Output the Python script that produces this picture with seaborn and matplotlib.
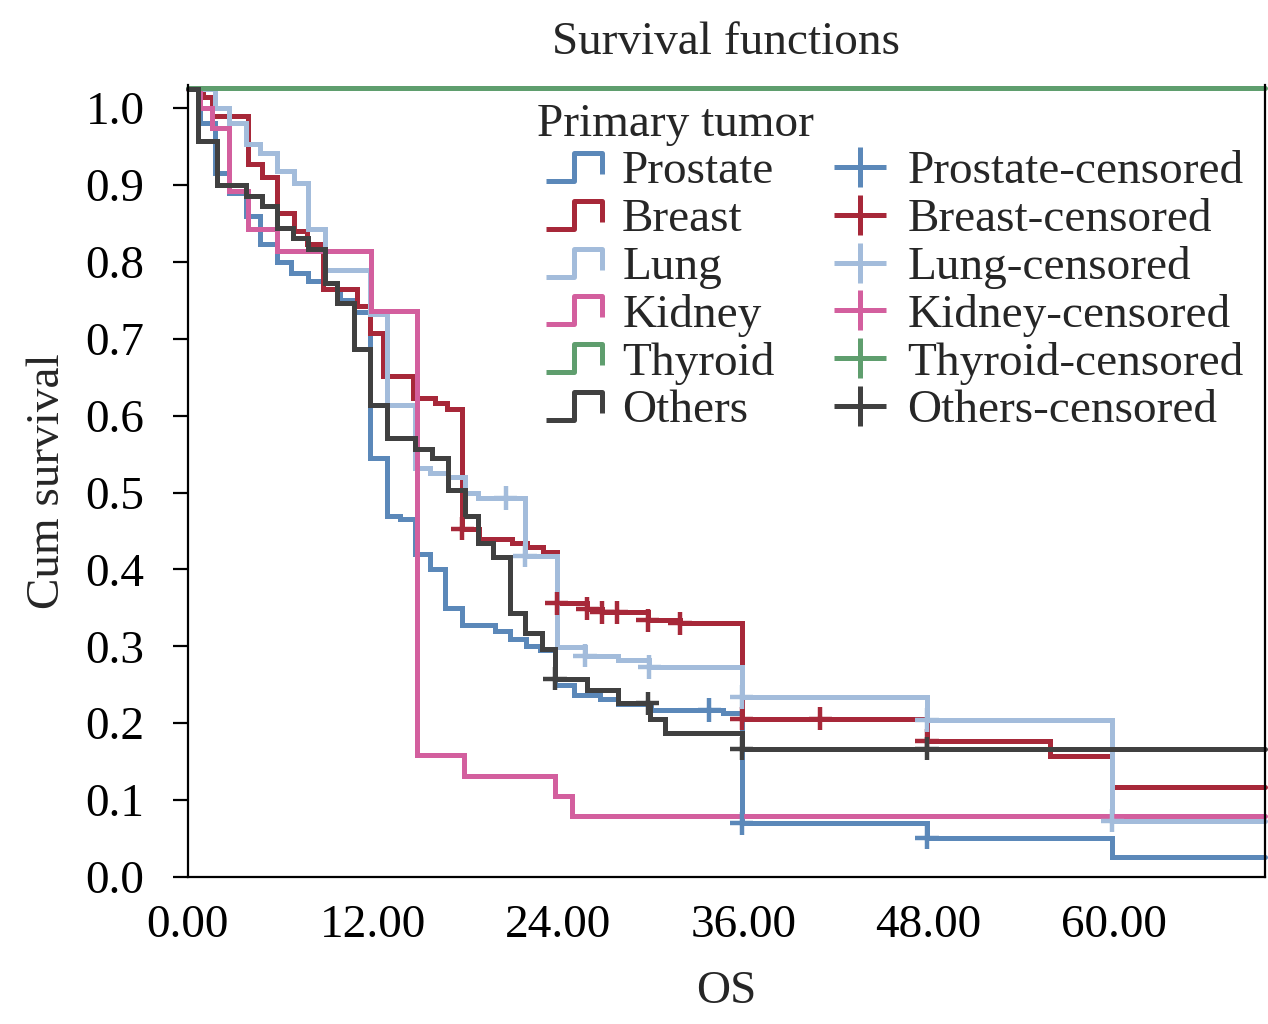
import numpy as np
import pandas as pd
import matplotlib
matplotlib.use("Agg")
import matplotlib.pyplot as plt
import seaborn as sns
from matplotlib.lines import Line2D
from matplotlib.path import Path

# Kaplan-Meier steps: event times (months) and survival after each event
prostate_t = [0, 0.78, 1.75, 2.7, 3.8, 4.7, 5.8, 6.7, 7.8, 8.75, 9.9, 10.8, 11.8, 12.9, 13.75,
              14.7, 15.7, 16.7, 17.8, 19.9, 20.9, 21.9, 22.8, 23.8, 25.0, 26.7, 27.9, 30.0,
              34.7, 35.9, 47.9, 59.9]
prostate_s = [1.025, 0.98, 0.915, 0.89, 0.86, 0.823, 0.80, 0.786, 0.775, 0.765, 0.75, 0.735,
              0.545, 0.47, 0.465, 0.42, 0.40, 0.35, 0.328, 0.32, 0.31, 0.30, 0.295, 0.25,
              0.237, 0.231, 0.225, 0.217, 0.213, 0.07, 0.051, 0.026]
prostate_cens = [33.8, 35.9, 47.9]

breast_t = [0, 0.97, 1.56, 3.9, 4.8, 5.8, 6.9, 7.7, 8.75, 11.0, 11.8, 12.65, 14.6, 16.0, 16.8,
            17.8, 18.9, 21.0, 22.0, 23.0, 23.9, 25.9, 26.85, 29.8, 31.9, 35.9, 47.9, 55.9, 59.9]
breast_s = [1.025, 1.014, 0.99, 0.927, 0.91, 0.864, 0.84, 0.823, 0.765, 0.742, 0.708, 0.652,
            0.623, 0.617, 0.609, 0.453, 0.44, 0.434, 0.429, 0.423, 0.356, 0.349, 0.344, 0.334,
            0.33, 0.206, 0.177, 0.157, 0.117]
breast_cens = [17.8, 23.9, 25.9, 26.85, 27.8, 29.8, 31.9, 35.9, 41.0, 47.9]

lung_t = [0, 1.75, 2.7, 3.8, 4.7, 5.8, 6.9, 7.8, 8.9, 11.8, 12.9, 14.7, 15.7, 16.9, 18.0,
          18.8, 21.85, 23.9, 25.75, 27.9, 29.9, 35.9, 47.9, 59.9]
lung_s = [1.025, 1.0, 0.98, 0.953, 0.942, 0.918, 0.903, 0.843, 0.79, 0.732, 0.614, 0.532,
          0.526, 0.52, 0.499, 0.493, 0.418, 0.299, 0.288, 0.282, 0.273, 0.234, 0.204, 0.073]
lung_cens = [20.6, 21.85, 25.75, 29.9, 35.9, 47.9, 59.9]

kidney_t = [0, 0.78, 1.6, 2.7, 3.9, 5.8, 11.9, 14.85, 17.9, 23.8, 24.9]
kidney_s = [1.025, 1.0, 0.974, 0.892, 0.843, 0.814, 0.736, 0.158, 0.131, 0.105, 0.079]
kidney_cens = []

thyroid_t = [0]
thyroid_s = [1.026]
thyroid_cens = []

others_t = [0, 0.65, 1.9, 3.8, 4.8, 5.8, 6.8, 7.8, 8.9, 9.7, 10.8, 11.8, 12.9, 14.7, 15.8,
            16.9, 18.0, 18.8, 19.8, 20.9, 21.85, 22.95, 23.8, 25.9, 27.9, 29.95, 30.9, 35.9]
others_s = [1.025, 0.957, 0.90, 0.886, 0.873, 0.844, 0.831, 0.817, 0.773, 0.747, 0.687, 0.614,
            0.571, 0.556, 0.545, 0.503, 0.47, 0.434, 0.416, 0.343, 0.317, 0.297, 0.258, 0.243,
            0.226, 0.206, 0.187, 0.167]
others_cens = [23.8, 29.8, 35.9, 47.9]

T_END = 69.8
tumors = ["Prostate", "Breast", "Lung", "Kidney", "Thyroid", "Others"]
colors = ["#5b88b9", "#a72839", "#a3bcdb", "#d35f9e", "#5f9e6e", "#404040"]
curves = {
    "Prostate": (prostate_t, prostate_s, prostate_cens),
    "Breast":   (breast_t, breast_s, breast_cens),
    "Lung":     (lung_t, lung_s, lung_cens),
    "Kidney":   (kidney_t, kidney_s, kidney_cens),
    "Thyroid":  (thyroid_t, thyroid_s, thyroid_cens),
    "Others":   (others_t, others_s, others_cens),
}


def surv_at(times, values, t):
    idx = np.searchsorted(times, t, side="right") - 1
    return values[idx]


step_rows, cens_rows = [], []
for name in tumors:
    t, s, c = curves[name]
    for ti, si in zip(t + [T_END], s + [s[-1]]):
        step_rows.append({"time": ti, "survival": si, "tumor": name})
    for ci in c:
        cens_rows.append({"time": ci, "survival": surv_at(t, s, ci), "tumor": name})
steps = pd.DataFrame(step_rows)
cens = pd.DataFrame(cens_rows)
palette = dict(zip(tumors, colors))

sns.set_theme(style="white")
plt.rcParams["font.family"] = ["Liberation Serif", "DejaVu Serif"]

FS = 34
LW = 3.6
fig = plt.figure(figsize=(12.68, 10.24), dpi=100)
ax = fig.add_axes([0.148, 0.1436, 0.8496, 0.7734])

for name in tumors:
    sub = steps[steps["tumor"] == name]
    sns.lineplot(data=sub, x="time", y="survival", color=palette[name],
                 drawstyle="steps-post", estimator=None, sort=False,
                 ax=ax, legend=False, clip_on=False)
for line in ax.lines:
    line.set_linewidth(LW)
    line.set_solid_joinstyle("miter")
sns.scatterplot(data=cens, x="time", y="survival", hue="tumor", palette=palette,
                marker="+", s=280, linewidth=3.2, legend=False, ax=ax, zorder=3)

ax.set_xlim(0, T_END)
ax.set_ylim(0, 1.03)
ax.set_xticks([0, 12, 24, 36, 48, 60])
ax.set_xticklabels([f"{v:.2f}" for v in [0, 12, 24, 36, 48, 60]])
ax.set_yticks(np.arange(0, 1.01, 0.1))
ax.set_yticklabels([f"{v:.1f}" for v in np.arange(0, 1.01, 0.1)])
ax.tick_params(axis="y", direction="out", length=11, width=1.6, pad=20,
               labelsize=FS, left=True, colors="black")
ax.tick_params(axis="x", length=0, pad=20, labelsize=FS, colors="black")
for side in ["left", "bottom", "right"]:
    ax.spines[side].set_color("black")
    ax.spines[side].set_linewidth(1.6)
ax.spines["top"].set_visible(False)

ax.set_xlabel("OS", fontsize=FS, labelpad=17)
ax.set_ylabel("Cum survival", fontsize=FS, labelpad=12)
ax.set_title("Survival functions", fontsize=FS, pad=22)

step_marker = Path([(-1, -0.5), (0, -0.5), (0, 0.5), (1, 0.5), (1, -0.25)],
                   [Path.MOVETO, Path.LINETO, Path.LINETO, Path.LINETO, Path.LINETO])
cross_marker = Path([(-1, 0), (1, 0), (0, -0.75), (0, 0.75)],
                    [Path.MOVETO, Path.LINETO, Path.MOVETO, Path.LINETO])
handles, labels = [], []
for name in tumors:
    handles.append(Line2D([], [], linestyle="none", marker=step_marker, markersize=40,
                          markerfacecolor="none", markeredgecolor=palette[name],
                          markeredgewidth=LW))
    labels.append(name)
for name in tumors:
    handles.append(Line2D([], [], linestyle="none", marker=cross_marker, markersize=38,
                          markerfacecolor="none", markeredgecolor=palette[name],
                          markeredgewidth=LW))
    labels.append(f"{name}-censored")

leg = ax.legend(handles, labels, ncol=2, title="Primary tumor", loc="upper left",
                bbox_to_anchor=(0.324, 0.977), frameon=False, fontsize=FS,
                title_fontsize=FS, alignment="left", handlelength=1.6,
                handletextpad=0.21, columnspacing=1.0, labelspacing=0.1,
                borderaxespad=0, borderpad=0)

fig.savefig("out.png", dpi=100)
